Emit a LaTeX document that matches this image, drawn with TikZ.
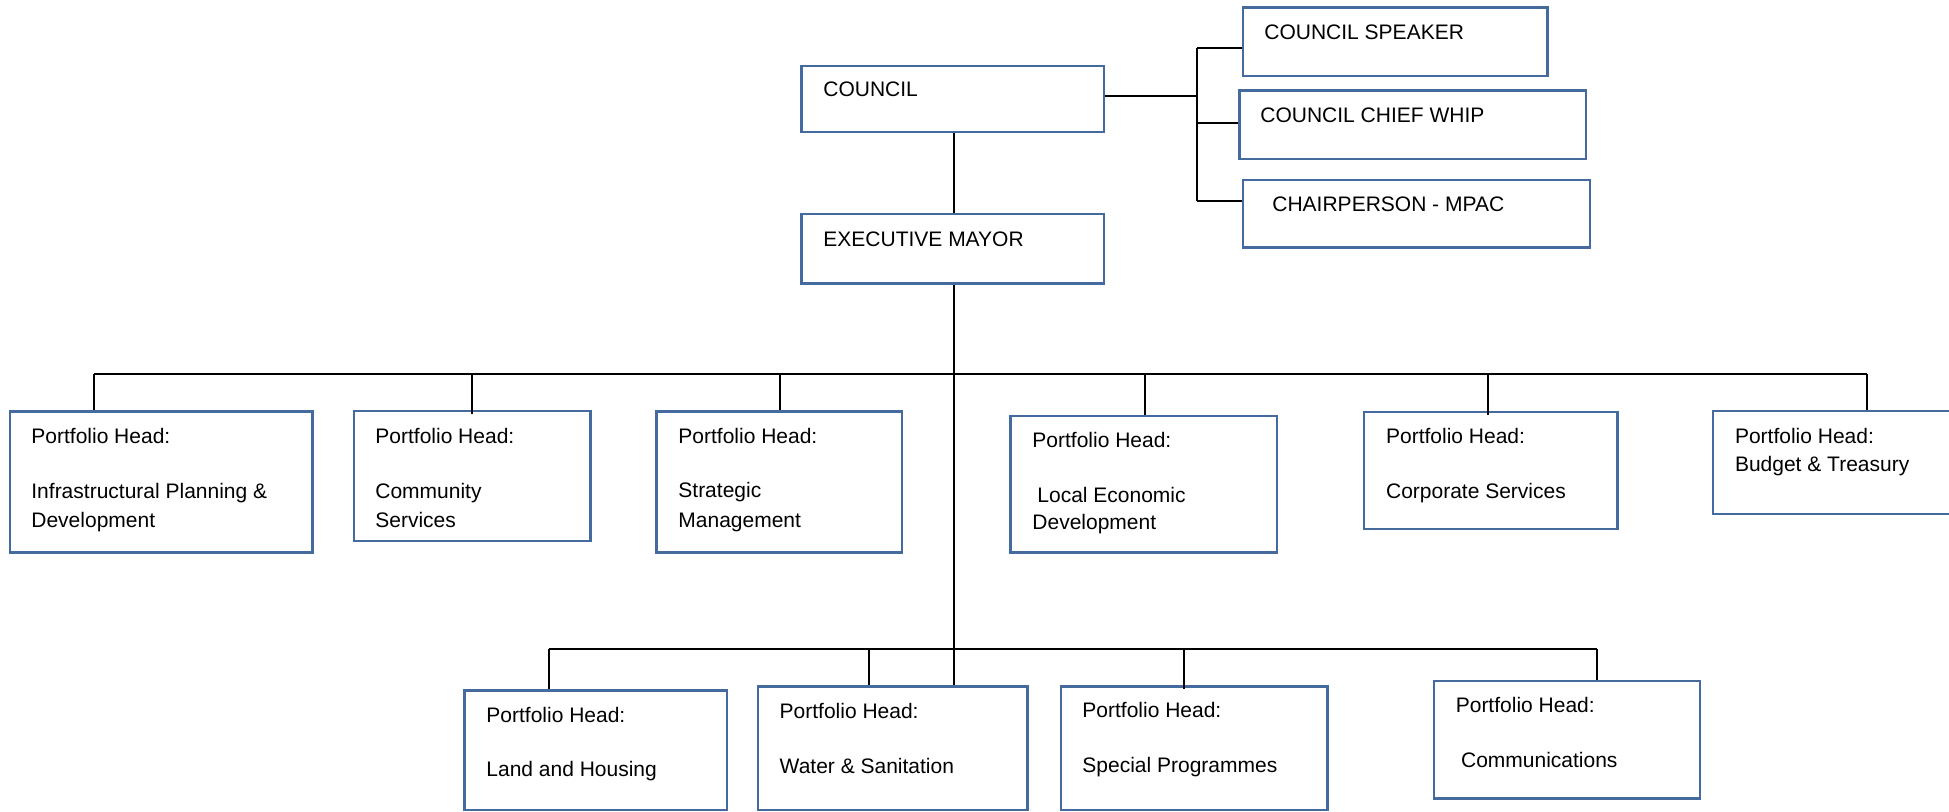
\documentclass[tikz,border=0pt]{standalone}
\usepackage{fontspec}
\setmainfont{Liberation Sans}
\usetikzlibrary{fit}
\definecolor{boxblue}{RGB}{68,106,158}
\tikzset{
  pbox/.style={draw=boxblue, line width=1.25pt, inner sep=0pt, rectangle},
  lbl/.style={anchor=base west, inner sep=0pt, font=\fontsize{10.5}{12.6}\selectfont},
  conn/.style={draw=black, line width=1pt}
}
\begin{document}
\begin{tikzpicture}[x=0.5pt, y=-0.5pt]
\useasboundingbox (0,0) rectangle (1949,811);
\clip (0,0) rectangle (1949,811);
% boxes
\node[pbox, fit={(801.7,66) (1103.8,132)}] (council) {};
\node[pbox, fit={(1243,7.5) (1547.5,76)}] (speaker) {};
\node[pbox, fit={(1239.3,90.7) (1586,159.1)}] (whip) {};
\node[pbox, fit={(1243,180.2) (1590,247.4)}] (chair) {};
\node[pbox, fit={(801.7,213.8) (1103.8,283.4)}] (mayor) {};
\node[pbox, fit={(9.8,411.7) (312.5,552.7)}] (p1) {};
\node[pbox, fit={(354,411) (590.6,541)}] (p2) {};
\node[pbox, fit={(656.5,411.7) (902,552.7)}] (p3) {};
\node[pbox, fit={(1010.5,416) (1277,552.7)}] (p4) {};
\node[pbox, fit={(1364,412) (1617.5,529)}] (p5) {};
\node[pbox, fit={(1713,411) (2000,514)}] (p6) {};
\node[pbox, fit={(464.6,690.7) (727,810)}] (b1) {};
\node[pbox, fit={(757.9,686.7) (1027.5,810)}] (b2) {};
\node[pbox, fit={(1061,686.7) (1327.7,810)}] (b3) {};
\node[pbox, fit={(1434,681) (1700,798.3)}] (b4) {};
% texts
\node[lbl] (tcouncil) at (823,96) {COUNCIL};
\node[lbl] (tspeaker) at (1264,39) {COUNCIL SPEAKER};
\node[lbl] (twhip) at (1260,122) {COUNCIL CHIEF WHIP};
\node[lbl] (tchair) at (1272,211) {CHAIRPERSON - MPAC};
\node[lbl] (tmayor) at (823,246) {EXECUTIVE MAYOR};
\node[lbl] (t1a) at (31,443) {Portfolio Head:};
\node[lbl] (t1b) at (31,498) {Infrastructural Planning \&};
\node[lbl] (t1c) at (31,527) {Development};
\node[lbl] (t2a) at (375,443) {Portfolio Head:};
\node[lbl] (t2b) at (375,498) {Community};
\node[lbl] (t2c) at (375,527) {Services};
\node[lbl] (t3a) at (678,443) {Portfolio Head:};
\node[lbl] (t3b) at (678,497) {Strategic};
\node[lbl] (t3c) at (678,527) {Management};
\node[lbl] (t4a) at (1032,447) {Portfolio Head:};
\node[lbl] (t4b) at (1037,502) {Local Economic};
\node[lbl] (t4c) at (1032,529.5) {Development};
\node[lbl] (t5a) at (1385.7,443) {Portfolio Head:};
\node[lbl] (t5b) at (1385.7,498) {Corporate Services};
\node[lbl] (t6a) at (1734.6,443) {Portfolio Head:};
\node[lbl] (t6b) at (1734.6,471) {Budget \& Treasury};
\node[lbl] (u1a) at (486,722) {Portfolio Head:};
\node[lbl] (u1b) at (486,776) {Land and Housing};
\node[lbl] (u2a) at (779.3,718) {Portfolio Head:};
\node[lbl] (u2b) at (779.3,773) {Water \& Sanitation};
\node[lbl] (u3a) at (1082,717) {Portfolio Head:};
\node[lbl] (u3b) at (1082,772) {Special Programmes};
\node[lbl] (u4a) at (1455.4,712) {Portfolio Head:};
\node[lbl] (u4b) at (1460.7,767) {Communications};
% connector coordinates
\coordinate (mainx) at (954,0);
\coordinate (brk) at (1197,96);
\coordinate (bkt) at (1197,47.5);
\coordinate (bkw) at (1197,123);
\coordinate (bkb) at (1197,200.5);
\coordinate (bus) at (954,374);
\coordinate (d1) at (93.5,374);
\coordinate (d2) at (472.3,374);
\coordinate (d3) at (780.2,374);
\coordinate (d4) at (1144.5,374);
\coordinate (d5) at (1488.3,374);
\coordinate (d6) at (1867,374);
\coordinate (e1) at (548.5,649);
\coordinate (e2) at (868.6,649);
\coordinate (e3) at (1184,649);
\coordinate (e4) at (1597,649);
% council side bracket
\draw[conn] (council.east |- brk) -- (brk);
\draw[conn] (bkt) -- (bkb);
\draw[conn] (bkt) -- (bkt -| speaker.west);
\draw[conn] (bkw) -- (bkw -| whip.west);
\draw[conn] (bkb) -- (bkb -| chair.west);
% council to mayor
\draw[conn] (mainx |- council.south) -- (mainx |- mayor.north);
% mayor main trunk
\draw[conn] (mainx |- mayor.south) -- (mainx |- b2.north);
% top bus
\draw[conn] (d1) -- (d6);
\draw[conn] (d1) -- (d1 |- p1.north);
\draw[conn] (d2) -- ([yshift=-2pt]d2 |- p2.north);
\draw[conn] (d3) -- (d3 |- p3.north);
\draw[conn] (d4) -- (d4 |- p4.north);
\draw[conn] (d5) -- ([yshift=-2pt]d5 |- p5.north);
\draw[conn] (d6) -- (d6 |- p6.north);
% bottom bus
\draw[conn] (e1) -- (e4);
\draw[conn] (e1) -- (e1 |- b1.north);
\draw[conn] (e2) -- (e2 |- b2.north);
\draw[conn] (e3) -- ([yshift=-2pt]e3 |- b3.north);
\draw[conn] (e4) -- (e4 |- b4.north);
\end{tikzpicture}
\end{document}
